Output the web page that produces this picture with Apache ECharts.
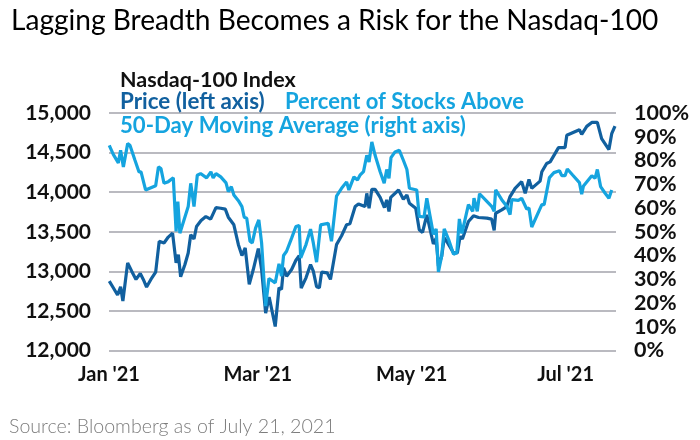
<!DOCTYPE html>
<html><head><meta charset="utf-8">
<style>html,body{margin:0;padding:0;background:#fff}#c{width:700px;height:440px}</style>
<script src="https://cdn.jsdelivr.net/npm/echarts@6/dist/echarts.min.js"></script>
</head><body><div id="c"></div>
<script>
// x values: days since Jan 1 2021
const priceDays=[0.1,1.7,3.4,4.6,5.5,7.4,9,10.7,12.4,13.6,14.9,16.6,18.5,19.9,21.8,23.5,25.2,26.6,27.5,28.4,30.1,31.4,32.4,33.7,34.7,36.5,38.4,40.3,42.4,44.3,46.1,47.3,49.5,51.3,52.7,54,55.6,57.2,59.2,60.5,62.1,63.5,65.9,67.4,68.4,69.2,70.4,72.4,74.1,75.4,76.2,78.1,79.9,81,82.3,83.4,84.3,86.5,87.8,90.2,92.2,94.2,95.5,97.6,98.9,101.5,102.2,103.1,104.2,105.5,107.5,109.2,110.1,111,111.7,114.8,116.7,118.1,119.1,121.6,123,124.3,126,128.6,129.7,130.6,131.9,132.9,133.9,136.6,138.1,139.2,140.1,142.5,144.5,146.5,149.8,151.7,152.7,153.3,155.7,157.7,159,161,163.6,165,166.5,167.6,170.9,171.6,173.5,174.9,178.2,180.8,181.5,186.5,187.4,189.4,191.4,193.6,195.3,198.2,199.3,200.6];
const priceValues=[12877,12793,12701,12805,12626,13107,13002,12898,12973,12898,12801,12898,12990,13379,13358,13433,13483,13107,13211,12931,13086,13232,13462,13408,13567,13642,13692,13659,13805,13797,13785,13684,13588,13337,13199,13295,12835,13023,13287,13023,12471,12676,12303,12793,12772,13044,12939,13023,13140,13199,12789,12918,13086,13002,12805,12793,12990,12981,12898,13337,13450,13588,13600,13818,13851,13818,13985,13797,14036,14036,13935,13805,13902,13755,13935,14027,13910,13965,13860,13797,13525,13492,13713,13345,13420,13065,13190,13421,13379,13232,13232,13441,13408,13630,13701,13680,13672,13659,13517,13734,13776,13818,13944,14048,14132,13985,14161,14048,14140,14257,14362,14383,14563,14563,14718,14789,14730,14831,14881,14881,14676,14538,14738,14835];
const breadthDays=[0.1,1.7,3.7,4.6,5.7,7.4,8.3,10.3,11.9,12.7,14.5,18.5,19.6,20.6,21.8,23.5,25.5,26.6,27.3,28.1,31.4,32.4,33.7,35,36.3,38.7,40.4,41.3,42.4,44.3,46.4,47.3,48.5,49.5,51.3,52.7,53.6,54.6,55.9,56.8,58.1,59.4,60.5,62.1,63.4,65.9,67.4,68.4,69.2,70.4,72.4,74.1,75.4,76,78.1,79.9,81,82.3,83.9,86.9,88.2,90.2,92.2,94.2,95.1,97.1,98.5,99.5,100.9,102.2,103.1,104.2,105.5,107.5,109.1,110.1,111,111.8,113.4,115.1,116.7,118.1,119.1,122,123,124.9,126,127.3,128.6,129.7,130.6,131.9,132.9,134.6,136.6,137.9,138.9,139.9,142.5,144.2,144.7,146,146.9,149.8,151.7,152.7,153.3,155.7,157.7,159,159.7,162.3,163.6,165.6,166.5,167.6,171.6,172.5,174.6,176.4,178.6,179.5,180.8,181.7,183.8,186.5,187.4,188.1,191.4,192.7,193.6,194.9,196.7,198.2,199.3];
const breadthValues=[86.4,82.6,79,84.3,77.3,87.1,86.4,80.1,75.2,75.2,67.6,69.4,77.3,76.6,70.4,71.1,72.7,50.1,62.7,49.4,60.6,70.4,60.6,73.8,74.5,72.7,75.2,72.7,74.5,73.1,70.6,66.9,69,65.5,63.1,60.6,56.1,55.7,46,45.3,51.5,55,45.3,18.7,30.3,28.5,36.5,31.3,40,41.8,47.3,52.2,52.6,39,44.6,51.1,45.3,37.2,52.9,53.6,46,65,68.3,71,67.6,73.1,71.8,73.8,75.3,82.2,79.4,87.8,82.2,75.3,70.4,76.2,72.5,81.2,83.6,84.3,80.1,76.2,68.3,67.6,56.5,56.2,64.1,56.5,48.9,51.2,33.1,39.8,51.2,46.8,40.5,41.2,55.4,49.3,61.4,58.6,64.1,58.6,66,62.8,60.7,58.6,67.6,63.5,60.7,57.2,63.5,63.2,64.1,59.6,60,52,61.4,61.4,72.8,74.9,75.7,73.6,73.6,76.4,73.9,70.7,65.8,69.3,73.6,72.5,76.2,69,66.2,64.1,67.6];
const xTickDays=[0,59,120,181];
const xTickLabels=["Jan '21","Mar '21","May '21","Jul '21"];
const titleText="Lagging Breadth Becomes a Risk for the Nasdaq-100";
const sourceText="Source: Bloomberg as of July 21, 2021";
const DARK='#11609f', LIGHT='#15a4df', GRID='#a3a3ab', FONT='Lato';
const pair=(a,b)=>a.map((v,i)=>[v,b[i]]);
const txt=(text,left,top,color,size,weight)=>({text,left,top,padding:0,textStyle:{color,fontSize:size,fontWeight:weight,fontFamily:FONT}});
const chart=echarts.init(document.getElementById('c'),null,{renderer:'canvas'});
chart.setOption({
  animation:false,
  title:[
    txt(titleText,11,7,'#000',28.1,'normal'),
    txt("Nasdaq-100 Index",120,69,'#111',21.5,'bold'),
    txt("Price (left axis)",120,91,DARK,22.4,'bold'),
    txt("Percent of Stocks Above",285,91,LIGHT,22,'bold'),
    txt("50-Day Moving Average (right axis)",120,115,LIGHT,22.2,'bold'),
    txt(sourceText,9,417,'#7d7d7d',19.6,300)
  ],
  grid:{left:109,right:84,top:113,bottom:89.5,containLabel:false},
  xAxis:{type:'value',min:0,max:201,splitLine:{show:false},axisLine:{show:false},axisTick:{show:false},
    axisLabel:{customValues:xTickDays,margin:14,color:'#111',fontSize:20,fontWeight:'bold',fontFamily:FONT,hideOverlap:false,showMinLabel:true,
      formatter:v=>xTickLabels[xTickDays.indexOf(v)]||''}},
  yAxis:[
    {type:'value',min:12000,max:15000,interval:500,axisLine:{show:false},axisTick:{show:false},
     splitLine:{show:true,lineStyle:{color:GRID,width:1.5}},
     axisLabel:{margin:18,color:'#111',fontSize:21,fontWeight:'bold',fontFamily:FONT,formatter:v=>v.toLocaleString('en-US')}},
    {type:'value',min:0,max:100,interval:10,position:'right',axisLine:{show:false},axisTick:{show:false},splitLine:{show:false},
     axisLabel:{margin:18,color:'#111',fontSize:21.5,fontWeight:'bold',fontFamily:FONT,formatter:'{value}%'}}
  ],
  series:[
    {type:'line',name:'Price',yAxisIndex:0,data:pair(priceDays,priceValues),showSymbol:false,lineStyle:{color:DARK,width:3.2},itemStyle:{color:DARK},z:2},
    {type:'line',name:'Percent above 50-day',yAxisIndex:1,data:pair(breadthDays,breadthValues),showSymbol:false,lineStyle:{color:LIGHT,width:3.2},itemStyle:{color:LIGHT},z:3}
  ]
});
</script></body></html>
